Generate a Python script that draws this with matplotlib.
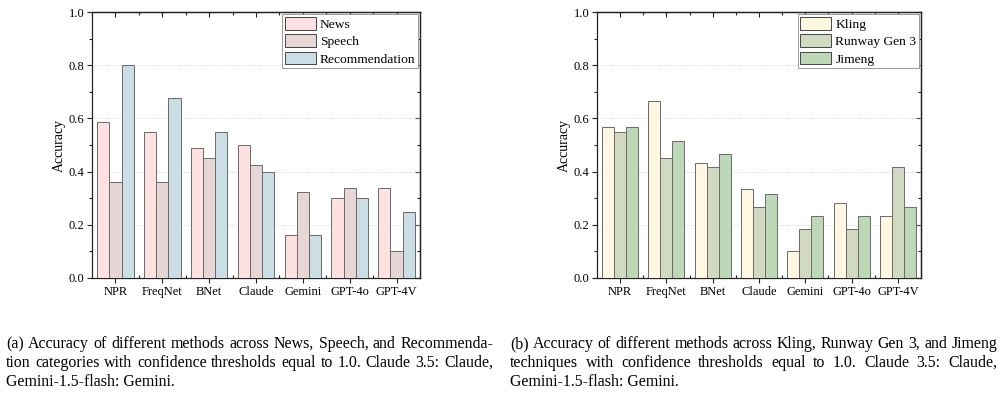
import matplotlib
matplotlib.use("Agg")
import matplotlib.pyplot as plt
import numpy as np
from matplotlib.ticker import MultipleLocator, FixedLocator, NullFormatter

plt.rcParams['font.family'] = ['Liberation Serif', 'DejaVu Serif']

methods = ["NPR", "FreqNet", "BNet", "Claude", "Gemini", "GPT-4o", "GPT-4V"]

news = [0.5875, 0.55, 0.4875, 0.5, 0.1625, 0.3, 0.3375]
speech = [0.3625, 0.3625, 0.45, 0.425, 0.325, 0.3375, 0.1]
recommendation = [0.8, 0.675, 0.55, 0.4, 0.1625, 0.3, 0.25]

kling = [0.5667, 0.6667, 0.4333, 0.3333, 0.1, 0.2833, 0.2333]
runway = [0.55, 0.45, 0.4167, 0.2667, 0.1833, 0.1833, 0.4167]
jimeng = [0.5667, 0.5167, 0.4667, 0.3167, 0.2333, 0.2333, 0.2667]

labels_a = ["News", "Speech", "Recommendation"]
labels_b = ["Kling", "Runway Gen 3", "Jimeng"]
colors_a = ["#FFE1E1", "#E6D6D6", "#CBDDE5"]
colors_b = ["#FFF7E1", "#D1D9C1", "#BCD8B6"]

caption_a = ["(a) Accuracy of different methods across News, Speech, and Recommenda-",
             "tion categories with confidence thresholds equal to 1.0. Claude 3.5: Claude,",
             "Gemini-1.5-flash: Gemini."]
caption_b = ["(b) Accuracy of different methods across Kling, Runway Gen 3, and Jimeng",
             "techniques with confidence thresholds equal to 1.0.  Claude 3.5: Claude,",
             "Gemini-1.5-flash: Gemini."]

W, H = 1002, 413
fig = plt.figure(figsize=(W / 100, H / 100), dpi=100)
SPINE = "#222222"


def draw(ax, series, labels, colors):
    x = np.arange(1, len(methods) + 1)
    bw = 0.26
    for i, (vals, lab, col) in enumerate(zip(series, labels, colors)):
        ax.bar(x + (i - 1) * bw, vals, width=bw, color=col, edgecolor="#6a6a6a",
               linewidth=0.7, label=lab, zorder=3)
    ax.set_xlim(0.5, len(methods) + 0.5)
    ax.set_ylim(0, 1.0)
    yt = np.arange(0, 1.01, 0.2)
    minor_x = np.arange(1.5, len(methods), 1.0)
    ax.set_xticks(x)
    ax.set_xticklabels(methods, fontsize=9)
    ax.xaxis.set_minor_locator(FixedLocator(minor_x))
    ax.set_yticks(yt)
    ax.set_yticklabels(["%.1f" % v for v in yt], fontsize=9)
    ax.yaxis.set_minor_locator(MultipleLocator(0.1))
    ax.tick_params(axis="both", which="major", direction="out", length=3.5,
                   width=0.8, color=SPINE, pad=2, top=False, right=False)
    ax.tick_params(axis="y", which="minor", direction="out", length=2,
                   width=0.8, color=SPINE, right=False)
    ax.tick_params(axis="x", which="minor", direction="in", length=2,
                   width=0.8, color=SPINE, top=False)
    # top and right ticks pointing inward
    sx = ax.secondary_xaxis("top")
    sx.set_xticks(x)
    sx.xaxis.set_minor_locator(FixedLocator(minor_x))
    sx.xaxis.set_major_formatter(NullFormatter())
    sx.tick_params(which="major", direction="in", length=3.5, width=0.8, color=SPINE)
    sx.tick_params(which="minor", direction="in", length=2, width=0.8, color=SPINE)
    sy = ax.secondary_yaxis("right")
    sy.set_yticks(yt)
    sy.yaxis.set_minor_locator(MultipleLocator(0.1))
    sy.yaxis.set_major_formatter(NullFormatter())
    sy.tick_params(which="major", direction="in", length=3.5, width=0.8, color=SPINE)
    sy.tick_params(which="minor", direction="in", length=2, width=0.8, color=SPINE)
    for a in (ax, sx, sy):
        for s in a.spines.values():
            s.set_linewidth(0.9)
            s.set_color(SPINE)
    ax.grid(axis="y", which="major", linestyle=(0, (1, 1.5)), color="#cccccc",
            linewidth=0.6, zorder=0)
    ax.set_ylabel("Accuracy", fontsize=10, labelpad=2)
    leg = ax.legend(loc="upper right", fontsize=9.7, frameon=True, fancybox=False,
                    edgecolor="#999999", framealpha=1, borderpad=0.2,
                    handlelength=2.3, handleheight=1.1, handletextpad=0.3,
                    labelspacing=0.25, borderaxespad=0.15)
    leg.get_frame().set_linewidth(0.7)
    leg.set_zorder(5)
    for p in leg.get_patches():
        p.set_edgecolor("#444444")


ax1 = fig.add_axes([92 / W, 1 - 278 / H, 328 / W, 266 / H])
draw(ax1, [news, speech, recommendation], labels_a, colors_a)
ax2 = fig.add_axes([597 / W, 1 - 278 / H, 324 / W, 266 / H])
draw(ax2, [kling, runway, jimeng], labels_b, colors_b)

fig.canvas.draw()
renderer = fig.canvas.get_renderer()


def text_width(s, fs):
    t = fig.text(0, 0, s, fontsize=fs)
    w = t.get_window_extent(renderer).width
    t.remove()
    return w


def fit_size(lines_sets, width):
    fs = 12.0
    while fs > 6:
        ok = all(text_width(l, fs) <= width for lines in lines_sets for l in lines[:-1])
        if ok:
            return fs
        fs -= 0.1
    return fs


def justified(lines, x0, x1, y0, dy, fs):
    for li, line in enumerate(lines):
        y = 1 - (y0 + li * dy) / H
        if li == len(lines) - 1:
            fig.text(x0 / W, y, line, fontsize=fs, va="baseline", ha="left")
            continue
        words = [w for w in line.split(" ") if w != ""]
        ts = [fig.text(0, y, w, fontsize=fs, va="baseline", ha="left") for w in words]
        widths = [t.get_window_extent(renderer).width for t in ts]
        gap = (x1 - x0 - sum(widths)) / max(len(words) - 1, 1)
        xx = x0
        for t, w in zip(ts, widths):
            t.set_x(xx / W)
            xx += w + gap


fs = fit_size([caption_a, caption_b], 486)
justified(caption_a, 6, 493, 348, 19, fs)
justified(caption_b, 510, 997, 348, 19, fs)

fig.savefig("out.png", dpi=100)
